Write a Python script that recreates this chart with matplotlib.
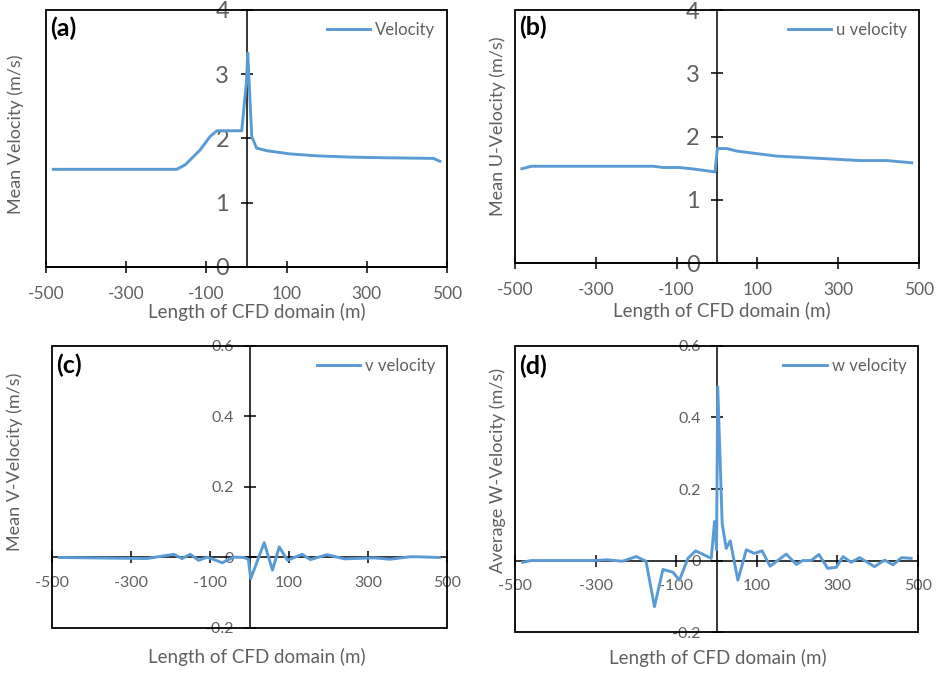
import matplotlib.pyplot as plt
from matplotlib.patches import Rectangle
from matplotlib.ticker import FuncFormatter

plt.rcParams['font.family'] = ['Lato', 'DejaVu Sans']
plt.rcParams['axes.unicode_minus'] = False

# (a) mean velocity
vel_x = [-482, -174, -153, -116, -91, -74, -12, 0, 3, 13, 25, 50, 108, 175, 258, 340, 466, 482]
vel_y = [1.52, 1.52, 1.59, 1.82, 2.03, 2.12, 2.12, 2.9, 3.33, 2.03, 1.85, 1.81, 1.76, 1.73, 1.71, 1.70, 1.69, 1.645]

# (b) u velocity
u_x = [-483, -459, -158, -133, -92, -50, -5, 1, 24, 49, 148, 238, 296, 354, 420, 482]
u_y = [1.49, 1.53, 1.53, 1.51, 1.51, 1.48, 1.44, 1.81, 1.81, 1.77, 1.69, 1.66, 1.64, 1.62, 1.62, 1.585]

# (c) v velocity
v_x = [-482, -260, -192, -171, -150, -129, -107, -69, -40, -15, -3, 3, 37, 58, 75, 96,
       133, 154, 196, 240, 315, 355, 406, 426, 480]
v_y = [0, -0.003, 0.009, -0.003, 0.009, -0.008, 0.001, -0.015, 0.001, 0, -0.005, -0.06, 0.042,
       -0.036, 0.03, -0.008, 0.009, -0.006, 0.008, -0.004, -0.001, -0.005, 0.002, 0.002, 0]

# (d) w velocity
w_x = [-481, -460, -304, -271, -234, -199, -175, -154, -133, -108, -92, -71, -52, -13, -5, 0, 3,
       14, 24, 34, 53, 74, 94, 113, 133, 173, 198, 214, 235, 254, 276, 297, 314, 334, 355, 392,
       417, 438, 459, 483]
w_y = [-0.005, 0, 0, 0.002, -0.002, 0.011, -0.002, -0.129, -0.025, -0.033, -0.055, 0.006, 0.027,
       0.006, 0.109, 0.03, 0.486, 0.104, 0.034, 0.055, -0.055, 0.03, 0.02, 0.027, -0.016, 0.018,
       -0.011, 0, 0, 0.017, -0.022, -0.019, 0.011, -0.005, 0.008, -0.017, 0.001, -0.012, 0.008, 0.006]

x_ticks = [-500, -300, -100, 100, 300, 500]
big_y_ticks = [0, 1, 2, 3, 4]
small_y_ticks = [-0.2, 0, 0.2, 0.4, 0.6]

blue = '#5B9BD5'
grey = '#606060'

fig = plt.figure(figsize=(9.41, 6.73), dpi=100)


def style(ax, x, y, name, letter, ylabel, ylim, yticks, xfs, yfs, xlab_pos, ylab_pos, xpad, ypad):
    ax.plot(x, y, color=blue, lw=2.1, label=name, zorder=3)
    ax.set_xlim(-500, 500)
    ax.set_ylim(*ylim)
    ax.set_xticks(x_ticks)
    ax.set_yticks(yticks)
    ax.yaxis.set_major_formatter(FuncFormatter(lambda v, p: '%g' % round(v, 2)))
    ax.spines['left'].set_position(('data', 0))
    ax.spines['bottom'].set_position(('data', 0))
    ax.spines['right'].set_visible(False)
    ax.spines['top'].set_visible(False)
    for s in ['left', 'bottom']:
        ax.spines[s].set_linewidth(1.1)
    ax.add_patch(Rectangle((0, 0), 1, 1, transform=ax.transAxes, fill=False,
                           ec='black', lw=1.3, clip_on=False, zorder=2.5))
    ax.tick_params(axis='both', direction='inout', length=9, width=1.1, color='black',
                   labelcolor=grey)
    ax.tick_params(axis='x', labelsize=xfs, pad=xpad)
    ax.tick_params(axis='y', labelsize=yfs, pad=ypad)
    ax.set_xlabel('Length of CFD domain (m)', fontsize=13.5, color=grey)
    ax.xaxis.set_label_coords(*xlab_pos)
    ax.set_ylabel(ylabel, fontsize=13, color=grey)
    ax.yaxis.set_label_coords(*ylab_pos)
    ax.text(0.01, 0.93, letter, transform=ax.transAxes, fontsize=18, fontweight='bold',
            va='center', ha='left')
    leg = ax.legend(loc='upper right', frameon=False, fontsize=12, handlelength=2.6,
                    handletextpad=0.3, borderaxespad=0.3)
    for t in leg.get_texts():
        t.set_color(grey)


ax1 = fig.add_axes([0.0489, 0.6033, 0.4262, 0.3819])
style(ax1, vel_x, vel_y, 'Velocity', '(a)', 'Mean Velocity (m/s)', (0, 4), big_y_ticks,
      12.5, 17, (0.526, -0.14), (-0.055, 0.517), 9, 8)

ax2 = fig.add_axes([0.5473, 0.6092, 0.4293, 0.3759])
style(ax2, u_x, u_y, 'u velocity', '(b)', 'Mean U-Velocity (m/s)', (0, 4), big_y_ticks,
      12.5, 17, (0.511, -0.155), (-0.022, 0.539), 9, 8)

ax3 = fig.add_axes([0.0553, 0.0669, 0.4198, 0.419])
style(ax3, v_x, v_y, 'v velocity', '(c)', 'Mean V-Velocity (m/s)', (-0.2, 0.6), small_y_ticks,
      11.5, 11.5, (0.519, -0.07), (-0.073, 0.589), 9, 7)

ax4 = fig.add_axes([0.5473, 0.0609, 0.4283, 0.425])
style(ax4, w_x, w_y, 'w velocity', '(d)', 'Average W-Velocity (m/s)', (-0.2, 0.6), small_y_ticks,
      11.5, 11.5, (0.504, -0.06), (-0.022, 0.564), 9, 7)

plt.savefig('out.png', dpi=100)
